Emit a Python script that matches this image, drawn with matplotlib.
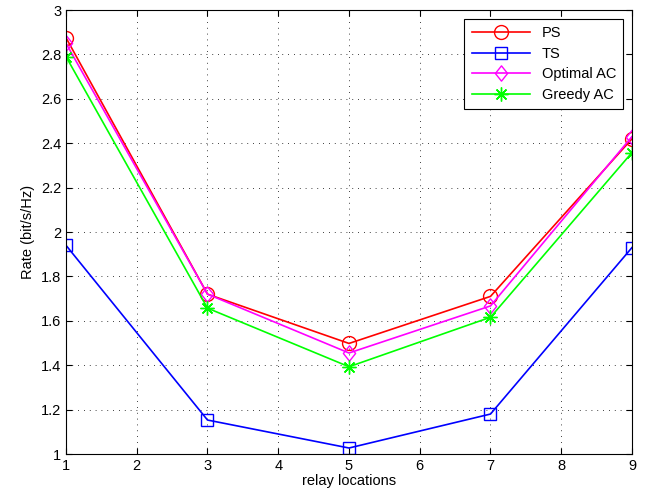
import matplotlib.pyplot as plt
import numpy as np
from matplotlib.path import Path

plt.rcParams['font.family'] = ['Liberation Sans', 'DejaVu Sans']

relay = [1, 3, 5, 7, 9]
ps = [2.875, 1.72, 1.498, 1.71, 2.42]
ts = [1.94, 1.153, 1.027, 1.18, 1.93]
opt_ac = [2.85, 1.72, 1.455, 1.667, 2.43]
greedy_ac = [2.79, 1.657, 1.393, 1.616, 2.358]

# matlab-like diamond, a bit taller than wide
diamond = Path([(0, 1), (0.8, 0), (0, -1), (-0.8, 0), (0, 1)],
               [Path.MOVETO, Path.LINETO, Path.LINETO, Path.LINETO, Path.CLOSEPOLY])

fig = plt.figure(figsize=(6.54, 5.0), dpi=100)
ax = fig.add_axes([66/654, 1-454/500, (632-66)/654, (454-10)/500])

ax.plot(relay, ps, color='red', marker='o', markersize=10, mfc='none', mew=1, lw=1.2, label='PS')
ax.plot(relay, ts, color='blue', marker='s', markersize=9, mfc='none', mew=1, lw=1.2, label='TS')
ax.plot(relay, opt_ac, color='magenta', marker=diamond, markersize=11, mfc='none', mew=1, lw=1.2, label='Optimal AC')
ax.plot(relay, greedy_ac, color='#00ff00', marker=(8, 2, 0), markersize=10, mew=1, lw=1.2, label='Greedy AC')

ax.set_xlim(1, 9)
ax.set_ylim(1, 3)
ax.set_xticks(np.arange(1, 10, 1))
ax.set_yticks(np.arange(1, 3.01, 0.2))
ax.set_yticklabels(['1', '1.2', '1.4', '1.6', '1.8', '2', '2.2', '2.4', '2.6', '2.8', '3'])
ax.tick_params(direction='in', top=True, right=True, labelsize=10.5, length=4)
ax.grid(True, linestyle=(0, (1, 6)), color='black', lw=0.6)
ax.set_xlabel('relay locations', fontsize=10.5, labelpad=1)
ax.set_ylabel('Rate (bit/s/Hz)', fontsize=10.5, labelpad=4)

leg = ax.legend(loc='upper right', fontsize=10.5, fancybox=False, edgecolor='black',
                borderaxespad=0.6, handlelength=4, framealpha=1, borderpad=0.5, labelspacing=0.45)
leg.get_frame().set_linewidth(0.8)

plt.savefig('out.png', dpi=100)
